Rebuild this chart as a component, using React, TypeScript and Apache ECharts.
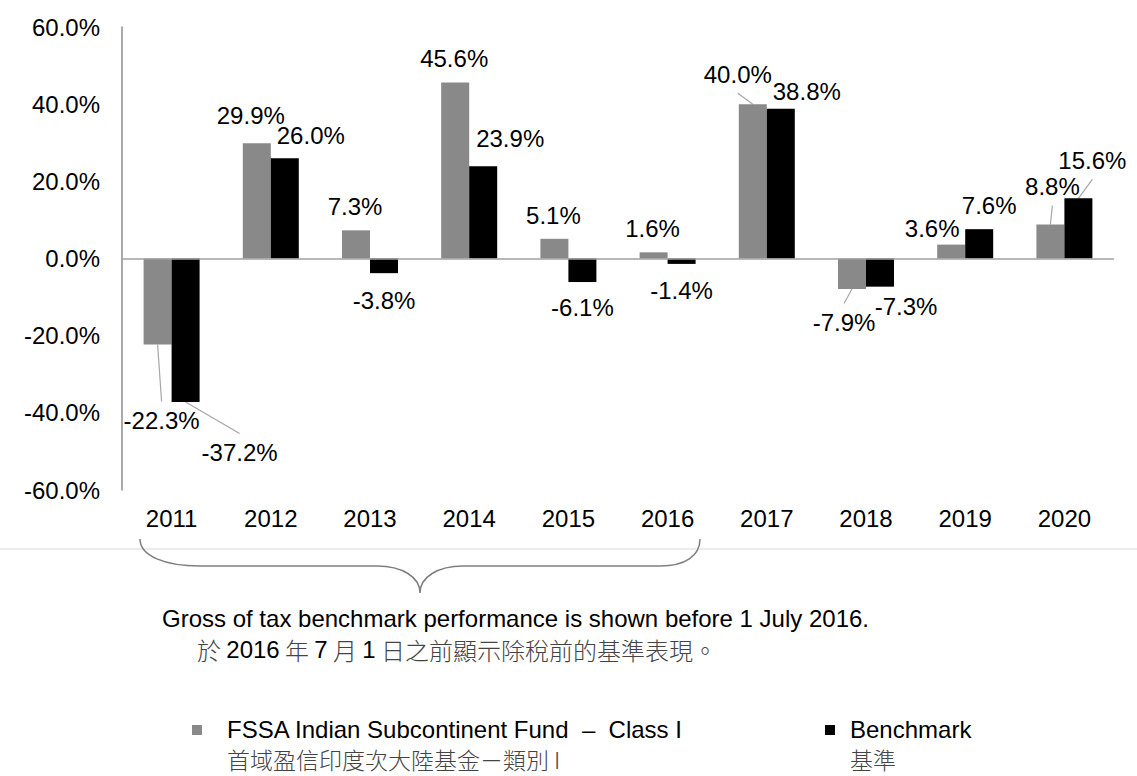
import React, { useEffect, useRef } from "react";
import * as echarts from "echarts";

// ---- data ----
const years = ["2011", "2012", "2013", "2014", "2015", "2016", "2017", "2018", "2019", "2020"];
const fundValues = [-22.3, 29.9, 7.3, 45.6, 5.1, 1.6, 40.0, -7.9, 3.6, 8.8];
const benchmarkValues = [-37.2, 26.0, -3.8, 23.9, -6.1, -1.4, 38.8, -7.3, 7.6, 15.6];
const yMin = -60;
const yMax = 60;
const yStep = 20;

const fundName = "FSSA Indian Subcontinent Fund  \u2013  Class I";
const fundNameZh = "首域盈信印度次大陸基金－類別 I";
const benchName = "Benchmark";
const benchNameZh = "基準";
const noteEn = "Gross of tax benchmark performance is shown before 1 July 2016.";
const noteZhParts: [string, string][] = [
  ["c", "於 "],
  ["n", "2016"],
  ["c", " 年 "],
  ["n", "7"],
  ["c", " 月 "],
  ["n", "1"],
  ["c", " 日之前顯示除稅前的基準表現。"],
];

// label placement tweaks (style only)
const fundLabelShift = [[4, 59], [-6, -11], [-1, -7], [-1, -7], [-1, -6], [-1, -7], [-15, -13], [-8, 16.5], [-19, 1], [2, -21]];
const benchLabelShift = [[54, 33.5], [26, -6], [0, 10], [27, -11], [0, 8.5], [0, 10], [26, 0], [26, 3], [10, -7], [14, -21]];
const fundLeader = [true, false, false, false, false, false, true, true, false, true];
const benchLeader = [true, false, false, false, false, false, false, false, false, true];

const LATIN = "'Liberation Sans', Arial, sans-serif";
const CJK = "'Noto Sans CJK TC', 'Liberation Sans', sans-serif";
const GREY = "#898989";
const BAR_W = 28;
const FONT = 24;
const LABEL_DIST = 5;

const bracePath =
  "M140,539 C140,556 165,566 200,566 L377,566 C402,566 420,577 420,593 C420,577 438,566 463,566 L660,566 C685,566 700,556 700,539";

let braceRegistered = false;

export default function App() {
  const ref = useRef<HTMLDivElement>(null);

  useEffect(() => {
    if (!ref.current) return;
    if (!braceRegistered) {
      echarts.graphic.registerShape("brace", echarts.graphic.extendPath(bracePath, {}));
      braceRegistered = true;
    }
    const chart = echarts.init(ref.current, null, { renderer: "svg" });

    const mkData = (vals: number[]) =>
      vals.map((v) => ({
        value: v,
        label: { position: v < 0 ? "bottom" : "top", distance: LABEL_DIST },
      }));

    const labelCommon = {
      show: true,
      fontFamily: LATIN,
      fontSize: FONT,
      color: "#000",
      formatter: (p: any) => p.value.toFixed(1) + "%",
    };

    const baseGraphic: any[] = [
      { type: "line", shape: { x1: 0, y1: 549, x2: 1137, y2: 549 }, style: { stroke: "#d9d9d9", lineWidth: 1 } },
      { type: "brace", x: 0, y: 0, style: { stroke: "#7f7f7f", fill: "none", lineWidth: 1.5 } },
      {
        type: "text",
        x: 162,
        y: 618,
        style: { text: noteEn, font: `${FONT}px ${LATIN}`, fill: "#000", verticalAlign: "middle", align: "left" },
      },
      {
        type: "text",
        x: 197,
        y: 649,
        style: {
          text: noteZhParts.map(([k, t]) => `{${k}|${t}}`).join(""),
          verticalAlign: "middle",
          align: "left",
          rich: {
            c: { fontFamily: CJK, fontSize: FONT, fontWeight: 300, fill: "#444" },
            n: { fontFamily: LATIN, fontSize: FONT, fill: "#000" },
          },
        },
      },
      { type: "rect", shape: { x: 192, y: 725, width: 10, height: 10 }, style: { fill: GREY } },
      {
        type: "text",
        x: 227,
        y: 729,
        style: { text: fundName, font: `${FONT}px ${LATIN}`, fill: "#000", verticalAlign: "middle" },
      },
      {
        type: "text",
        x: 227,
        y: 759,
        style: { text: fundNameZh, font: `300 23px ${CJK}`, fill: "#444", verticalAlign: "middle" },
      },
      { type: "rect", shape: { x: 825, y: 725, width: 10, height: 10 }, style: { fill: "#000" } },
      {
        type: "text",
        x: 850,
        y: 729,
        style: { text: benchName, font: `${FONT}px ${LATIN}`, fill: "#000", verticalAlign: "middle" },
      },
      {
        type: "text",
        x: 850,
        y: 759,
        style: { text: benchNameZh, font: `300 23px ${CJK}`, fill: "#444", verticalAlign: "middle" },
      },
    ];

    const option: any = {
      animation: false,
      grid: { left: 122, right: 23, top: 27, bottom: 286, containLabel: false },
      xAxis: {
        type: "category",
        data: years,
        axisLine: { show: false, onZero: false },
        axisTick: { show: false },
        axisLabel: { fontFamily: LATIN, fontSize: FONT, color: "#000", margin: 16 },
        splitLine: { show: false },
      },
      yAxis: {
        type: "value",
        min: yMin,
        max: yMax,
        interval: yStep,
        axisLine: { show: true, lineStyle: { color: "#8e8e8e", width: 1.5 } },
        axisTick: { show: false },
        splitLine: { show: false },
        axisLabel: {
          fontFamily: LATIN,
          fontSize: FONT,
          color: "#000",
          margin: 22,
          formatter: (v: number) => v.toFixed(1) + "%",
        },
      },
      series: [
        {
          name: fundName,
          type: "bar",
          barWidth: BAR_W,
          barGap: "0%",
          itemStyle: { color: GREY },
          data: mkData(fundValues),
          label: labelCommon,
          labelLayout: (p: any) => ({ dx: fundLabelShift[p.dataIndex][0], dy: fundLabelShift[p.dataIndex][1] }),
          markLine: {
            silent: true,
            symbol: "none",
            label: { show: false },
            lineStyle: { color: "#a0a0a0", width: 1.5, type: "solid" },
            data: [{ yAxis: 0 }],
          },
        },
        {
          name: benchName,
          type: "bar",
          barWidth: BAR_W,
          barGap: "0%",
          itemStyle: { color: "#000" },
          data: mkData(benchmarkValues),
          label: labelCommon,
          labelLayout: (p: any) => ({ dx: benchLabelShift[p.dataIndex][0], dy: benchLabelShift[p.dataIndex][1] }),
        },
      ],
      graphic: baseGraphic,
    };

    chart.setOption(option);

    // leader lines from bar ends to moved labels, positioned through the chart's own scales
    const leaders: any[] = [];
    const addLeaders = (vals: number[], shift: number[][], leader: boolean[], side: number) => {
      vals.forEach((v, i) => {
        if (!leader[i]) return;
        const p = chart.convertToPixel({ gridIndex: 0 }, [i, v]) as number[];
        const bx = p[0] + side * (BAR_W / 2);
        const by = p[1];
        const dir = v < 0 ? 1 : -1;
        const lx = bx + shift[i][0];
        const ly = by + dir * (LABEL_DIST + FONT / 2) + shift[i][1];
        const edgeY = ly - dir * (FONT / 2 + 7);
        leaders.push({
          type: "line",
          shape: { x1: bx, y1: by, x2: lx, y2: edgeY },
          style: { stroke: "#a6a6a6", lineWidth: 1.2 },
        });
      });
    };
    addLeaders(fundValues, fundLabelShift, fundLeader, -1);
    addLeaders(benchmarkValues, benchLabelShift, benchLeader, 1);
    chart.setOption({ graphic: [...baseGraphic, ...leaders] });

    return () => chart.dispose();
  }, []);

  return (
    <div
      ref={ref}
      style={{ position: "fixed", left: 0, top: 0, width: 1137, height: 776, background: "#fff" }}
    />
  );
}
